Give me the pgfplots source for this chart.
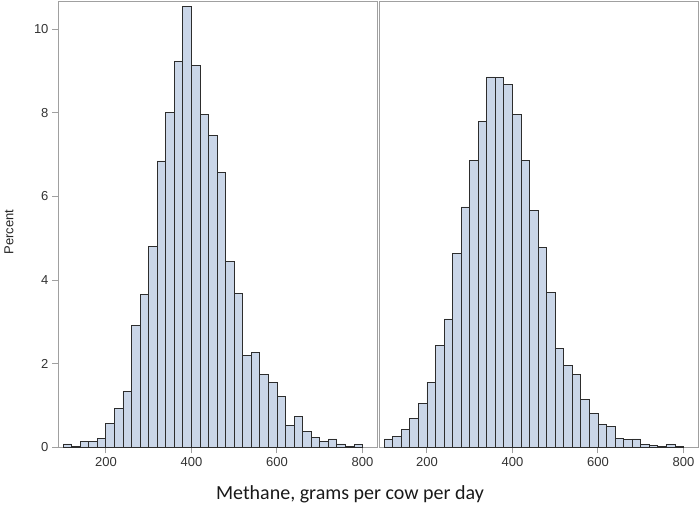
\documentclass[border=0pt]{standalone}
\usepackage{fontspec}
\setmainfont{Liberation Sans}
\newfontfamily\calib{Carlito}
\usepackage{pgfplots}
\pgfplotsset{compat=1.18}
\usepackage{pgfplotstable}
\definecolor{barfill}{RGB}{202,214,232}
\definecolor{baredge}{RGB}{45,45,45}
\definecolor{framec}{RGB}{160,160,160}

\pgfplotstableread{
x y
100 0.08
120 0.02
140 0.14
160 0.14
180 0.22
200 0.58
220 0.93
240 1.33
260 2.91
280 3.65
300 4.81
320 6.85
340 8.00
360 9.22
380 10.55
400 9.13
420 7.96
440 7.46
460 6.58
480 4.45
500 3.67
520 2.20
540 2.26
560 1.74
580 1.56
600 1.22
620 0.53
640 0.73
660 0.38
680 0.23
700 0.13
720 0.20
740 0.08
760 0.02
780 0.06
800 0
}\lefttab

\pgfplotstableread{
x y
100 0.20
120 0.26
140 0.42
160 0.70
180 1.05
200 1.56
220 2.44
240 3.07
260 4.64
280 5.75
300 6.87
320 7.80
340 8.86
360 8.84
380 8.68
400 7.96
420 6.86
440 5.67
460 4.78
480 3.70
500 2.36
520 1.95
540 1.74
560 1.15
580 0.82
600 0.55
620 0.50
640 0.22
660 0.18
680 0.20
700 0.07
720 0.04
740 0.02
760 0.06
780 0.03
800 0
}\righttab

\pgfplotsset{panel/.style={
  scale only axis, width=319pt, height=445.6pt, anchor=south west,
  xmin=88, xmax=834, ymin=0, ymax=10.66,
  axis line style={framec, line width=1pt},
  tick style={framec, line width=1pt},
  tick align=outside, major tick length=6pt,
  xtick={200,400,600,800},
  xtick pos=bottom, ytick pos=left,
  ticklabel style={font=\fontsize{13}{15}\selectfont, text=black!80},
  /pgf/number format/assume math mode=true,
  xticklabel style={yshift=-1pt},
}}

\begin{document}
\begin{tikzpicture}[x=1pt,y=1pt]
\useasboundingbox (0,0) rectangle (700,509);
\begin{axis}[panel, at={(58pt,61.7pt)}, ytick={0,2,4,6,8,10}]
\addplot[ybar interval, fill=barfill, draw=baredge, line width=0.8pt] table[x=x,y=y] {\lefttab};
\end{axis}
\begin{axis}[panel, at={(379pt,61.7pt)}, ytick=\empty]
\addplot[ybar interval, fill=barfill, draw=baredge, line width=0.8pt] table[x=x,y=y] {\righttab};
\end{axis}
\node[rotate=90, font=\fontsize{13}{15}\selectfont, text=black!85] at (9,277) {Percent};
\node[font=\calib\fontsize{20}{23}\selectfont, text=black!90] at (350,15) {Methane, grams per cow per day};
\end{tikzpicture}
\end{document}
